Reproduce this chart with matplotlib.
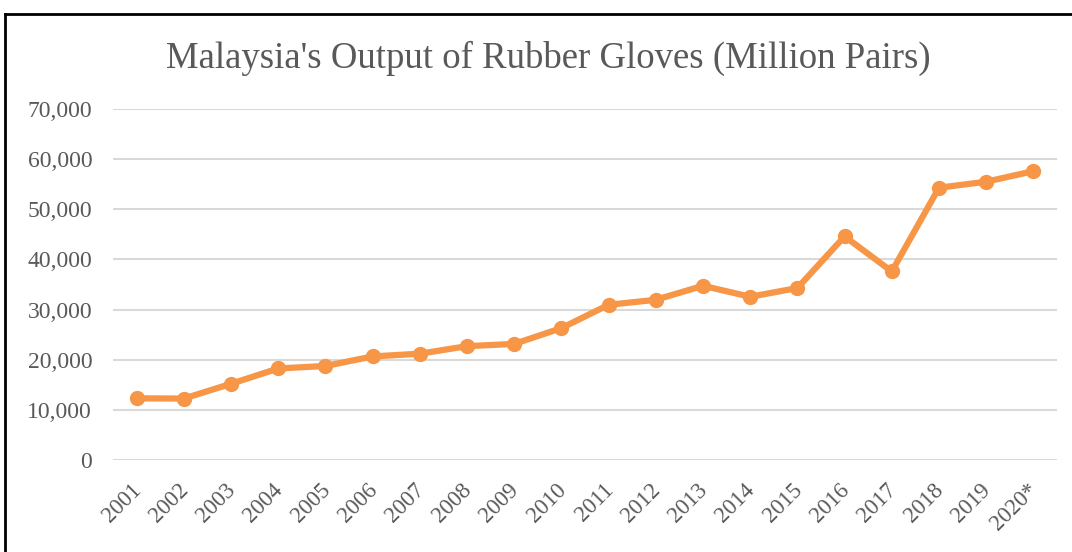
import matplotlib
matplotlib.use("Agg")
import matplotlib.pyplot as plt
import matplotlib.ticker as mticker
import matplotlib.transforms as mtransforms
from matplotlib.lines import Line2D
import numpy as np

# ── Data ──────────────────────────────────────────────────────────────────────
years = ["2001", "2002", "2003", "2004", "2005", "2006", "2007", "2008", "2009", "2010",
         "2011", "2012", "2013", "2014", "2015", "2016", "2017", "2018", "2019", "2020*"]
output = [12300, 12250, 15200, 18250, 18750, 20650, 21200, 22700, 23150, 26300,
          30950, 31950, 34750, 32550, 34300, 44600, 37600, 54300, 55500, 57600]

LINE_COLOR = "#F79646"
TEXT_COLOR = "#595959"
GRID_COLOR = "#D9D9D9"

plt.rcParams["font.family"] = ["Liberation Serif", "DejaVu Serif"]

fig = plt.figure(figsize=(10.72, 5.52), dpi=100)
ax = fig.add_axes([113 / 1072, 1 - 460 / 552, (1057 - 113) / 1072, (460 - 109) / 552])

x = np.arange(len(years))
ax.plot(x, output, color=LINE_COLOR, linewidth=4.5, marker="o", markersize=10,
        solid_capstyle="round", solid_joinstyle="round", zorder=3)

ax.set_xlim(-0.5, len(years) - 0.5)
ax.set_ylim(0, 70000)
ax.set_yticks(np.arange(0, 70001, 10000))
ax.yaxis.set_major_formatter(mticker.FuncFormatter(lambda v, _: f"{v:,.0f}"))
ax.grid(axis="y", color=GRID_COLOR, linewidth=1.5, zorder=0)
ax.set_axisbelow(True)

for spine in ax.spines.values():
    spine.set_visible(False)

ax.set_xticks(x)
ax.set_xticklabels(years, rotation=45, ha="right", va="top", rotation_mode="anchor")
ax.tick_params(axis="y", length=0, colors=TEXT_COLOR, labelsize=17, pad=15)
ax.tick_params(axis="x", length=0, colors=TEXT_COLOR, labelsize=16.5, pad=14)
shift = mtransforms.ScaledTranslation(-6 / 100, 0, fig.dpi_scale_trans)
for lbl in ax.get_xticklabels():
    lbl.set_transform(lbl.get_transform() + shift)

fig.text(548 / 1072, 1 - 58 / 552, "Malaysia's Output of Rubber Gloves (Million Pairs)",
         ha="center", va="center", fontsize=26.5, color=TEXT_COLOR)

# black frame around the chart (top and left edges visible)
fig.add_artist(Line2D([5 / 1072, 1.0], [1 - 14 / 552, 1 - 14 / 552],
                      transform=fig.transFigure, color="black", linewidth=2))
fig.add_artist(Line2D([5 / 1072, 5 / 1072], [0.0, 1 - 14 / 552],
                      transform=fig.transFigure, color="black", linewidth=2))

fig.savefig("out.png", dpi=100, facecolor="white")
plt.close(fig)
